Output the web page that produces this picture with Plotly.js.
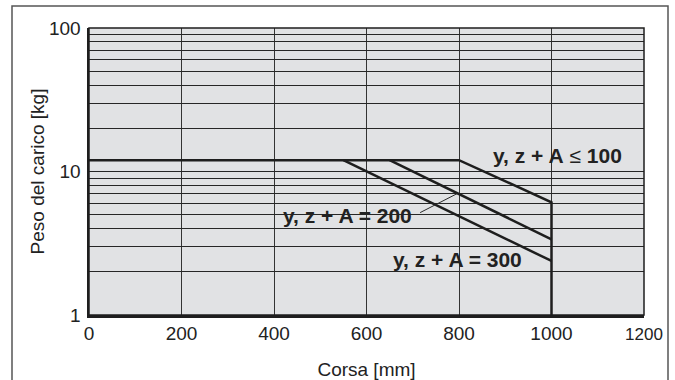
<!DOCTYPE html>
<html>
<head>
<meta charset="utf-8">
<script src="https://cdn.plot.ly/plotly-3.0.1.min.js"></script>
<style>
  html, body { margin: 0; padding: 0; background: #ffffff; }
  #chart { width: 675px; height: 380px; }
</style>
</head>
<body>
<div id="chart"></div>
<script>
// ---- data ----
const strokeTicks = [0, 200, 400, 600, 800, 1000, 1200];
const strokeTickText = ['0', '200', '400', '600', '800', '1000', '<span style="font-size:17px">1200</span>'];
const loadTickVals = [1, 2, 3, 4, 5, 6, 7, 8, 9, 10, 20, 30, 40, 50, 60, 70, 80, 90, 100];
const loadTickText = ['1', '', '', '', '', '', '', '', '', '10', '', '', '', '', '', '', '', '', '100'];

const a100Stroke = [0, 800, 1000, 1000];
const a100Load = [12, 12, 6.1, 1];
const a200Stroke = [650, 1000];
const a200Load = [12, 3.37];
const a300Stroke = [550, 1000];
const a300Load = [12, 2.38];

const labels = ['y, z + A \u2264 100', 'y, z + A = 200', 'y, z + A = 300'];

// point on the A=200 curve where the leader line ends (log interpolation)
const t = 0.42;
const leadX = a200Stroke[0] + t * (a200Stroke[1] - a200Stroke[0]);
const leadLogY = Math.log10(a200Load[0]) + t * (Math.log10(a200Load[1]) - Math.log10(a200Load[0]));

const lineStyle = { color: '#1e1e1e', width: 2.5 };
const traces = [
  { x: a100Stroke, y: a100Load, mode: 'lines', line: lineStyle, hoverinfo: 'skip' },
  { x: a200Stroke, y: a200Load, mode: 'lines', line: lineStyle, hoverinfo: 'skip' },
  { x: a300Stroke, y: a300Load, mode: 'lines', line: lineStyle, hoverinfo: 'skip' }
];

const FONT = 'Liberation Sans, Arial, Helvetica, sans-serif';
const bg = '#e1e2e4';
const L = 89, R = 644, T = 28, B = 315, W = 675, H = 380;
const px = v => (v - L) / (R - L);
const py = v => (B - v) / (B - T);

function mask(x0, x1, y0, y1) {
  return { type: 'rect', xref: 'paper', yref: 'paper', layer: 'between',
    x0: px(x0), x1: px(x1), y0: py(y1), y1: py(y0),
    fillcolor: bg, line: { width: 0 } };
}
function label(txt, cx, cy) {
  return { xref: 'paper', yref: 'paper', x: px(cx), y: py(cy), xanchor: 'center', yanchor: 'middle',
    text: txt, showarrow: false, font: { family: FONT, size: 21, color: '#222222' } };
}

const layout = {
  width: W, height: H,
  margin: { l: L, r: W - R, t: T, b: H - B, pad: 0 },
  paper_bgcolor: '#ffffff',
  plot_bgcolor: bg,
  showlegend: false,
  font: { family: FONT, size: 19, color: '#222222' },
  xaxis: {
    range: [0, 1200],
    tickvals: strokeTicks, ticktext: strokeTickText,
    ticks: '', ticklabelstandoff: 0,
    showgrid: true, gridcolor: '#333333', gridwidth: 1,
    showline: true, linecolor: '#1e1e1e', linewidth: 2.5,
    zeroline: false, fixedrange: true,
    tickfont: { family: FONT, size: 19, color: '#222222' },
    title: { text: 'Corsa [mm]', font: { family: FONT, size: 19, color: '#222222' }, standoff: 24 }
  },
  yaxis: {
    type: 'log', range: [0, 2],
    tickvals: loadTickVals, ticktext: loadTickText,
    ticks: '', ticklabelstandoff: 2,
    showgrid: true, gridcolor: '#262626', gridwidth: 1,
    showline: true, linecolor: '#1e1e1e', linewidth: 2.5,
    zeroline: false, fixedrange: true,
    tickfont: { family: FONT, size: 19, color: '#222222' },
    title: { text: 'Peso del carico [kg]', font: { family: FONT, size: 19, color: '#222222' }, standoff: 0 }
  },
  shapes: [
    mask(490, 625, 139, 172.5),
    mask(281, 417, 205, 233),
    mask(390, 527, 247, 275),
    { type: 'rect', xref: 'paper', yref: 'paper', layer: 'above',
      x0: 0, x1: 1, y0: 0, y1: 1, line: { color: '#1e1e1e', width: 1.5 } },
    { type: 'rect', xref: 'paper', yref: 'paper', layer: 'above',
      x0: px(12), x1: px(668), y0: py(392), y1: py(6), line: { color: '#555555', width: 1.5 } }
  ],
  annotations: [
    label('<b>y, z + A</b> \u2264 <b>100</b>', 557.5, 155),
    label('<b>' + labels[1] + '</b>', 347.5, 215),
    label('<b>' + labels[2] + '</b>', 457.5, 259),
    { xref: 'x', yref: 'y', x: leadX, y: leadLogY, text: '', showarrow: true,
      arrowhead: 0, arrowwidth: 1, arrowcolor: '#2a2a2a', standoff: 0,
      ax: -39, ay: 20 }
  ]
};

Plotly.newPlot('chart', traces, layout, { displayModeBar: false, staticPlot: true });
</script>
</body>
</html>
